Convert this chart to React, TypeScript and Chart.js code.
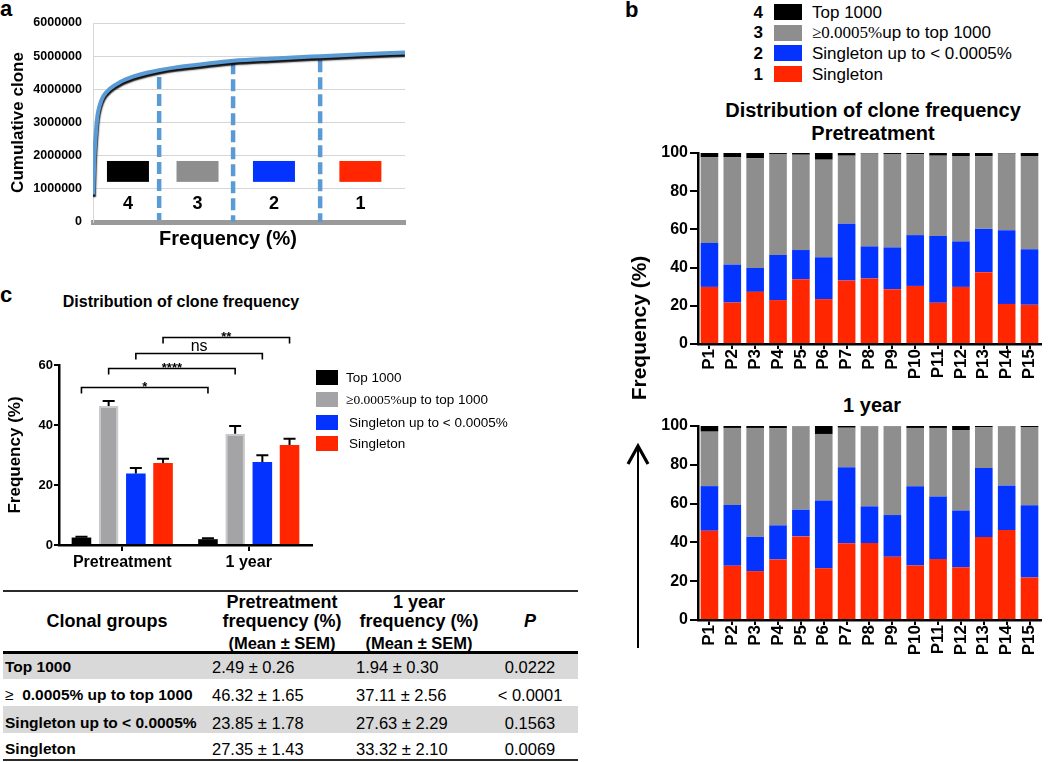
import React, { useEffect, useRef } from "react";
import { Chart, registerables } from "chart.js";

Chart.register(...registerables);

const FONT = "'Liberation Sans', Arial, Helvetica, sans-serif";
const SERIF = "'Liberation Serif', 'Times New Roman', serif";
Chart.defaults.font.family = FONT;
Chart.defaults.color = "#000";

// ---------- Panel a: cumulative clone curve ----------
const curveX = [0.1, 0.4, 0.9, 1.4, 2.2, 3.3, 5.4, 8.7, 12.8, 17.2, 21.2, 27, 34.3, 44.9, 58, 72.8, 86, 100];
const curveY = [830000, 1820000, 2630000, 3170000, 3530000, 3790000, 4020000, 4220000, 4380000, 4500000, 4580000, 4670000, 4750000, 4860000, 4930000, 5000000, 5060000, 5110000];
const cutX = [21.2, 44.9, 72.8];
const cutTop = [4370000, 4820000, 4880000];
const cutBottom = [60000, 0, 0];
const groupNumbers = ["4", "3", "2", "1"];
const groupCenters = [11.2, 33.5, 58.0, 85.7];
const yTicksA = [0, 1000000, 2000000, 3000000, 4000000, 5000000, 6000000];

// ---------- Panel b: per patient stacked distribution ----------
const patients = ["P1", "P2", "P3", "P4", "P5", "P6", "P7", "P8", "P9", "P10", "P11", "P12", "P13", "P14", "P15"];
const preSingleton = [29.9, 21.7, 27.3, 23.0, 33.9, 23.5, 33.2, 34.3, 28.7, 30.4, 21.6, 29.9, 37.6, 21.0, 20.5];
const preSingletonUp = [23.0, 19.9, 12.5, 23.6, 15.3, 21.9, 29.8, 16.8, 21.9, 26.6, 34.9, 23.8, 22.7, 38.5, 29.1];
const preMid = [44.8, 56.1, 57.4, 52.9, 49.9, 51.1, 35.6, 48.6, 48.9, 42.3, 42.1, 44.7, 38.0, 40.2, 48.8];
const preTop = [2.3, 2.3, 2.8, 0.5, 0.9, 3.5, 1.4, 0.3, 0.5, 0.7, 1.4, 1.6, 1.7, 0.3, 1.6];
const yrSingleton = [46.0, 27.9, 25.2, 31.2, 43.1, 26.7, 39.5, 39.7, 32.6, 28.1, 31.4, 27.2, 42.8, 46.4, 21.9];
const yrSingletonUp = [23.0, 31.4, 17.7, 17.6, 13.8, 34.9, 39.3, 18.9, 21.5, 40.9, 32.2, 29.2, 35.5, 22.9, 37.2];
const yrMid = [28.1, 39.7, 56.1, 50.0, 42.9, 34.3, 20.3, 41.2, 45.7, 30.0, 35.4, 41.5, 21.0, 30.5, 40.4];
const yrTop = [2.9, 1.0, 1.0, 1.2, 0.2, 4.1, 0.9, 0.2, 0.2, 1.0, 1.0, 2.1, 0.7, 0.2, 0.5];

// ---------- Panel c + table ----------
const timepoints = ["Pretreatment", "1 year"];
const groupNames = ["Top 1000", "≥0.0005%up to top 1000", "Singleton up to < 0.0005%", "Singleton"];
const tableGroupNames = ["Top 1000", "≥  0.0005% up to top 1000", "Singleton up to < 0.0005%", "Singleton"];
const preMean = [2.49, 46.32, 23.85, 27.35];
const preSem = [0.26, 1.65, 1.78, 1.43];
const yrMean = [1.94, 37.11, 27.63, 33.32];
const yrSem = [0.30, 2.56, 2.29, 2.10];
const pValues = ["0.0222", "< 0.0001", "0.1563", "0.0069"];
const bracketLevels = [52.8, 58.9, 63.9, 69.4];
const bracketLabels = ["*", "****", "ns", "**"];

const BLACK = "#000000";
const GRAY = "#8e8e8e";
const GRAY_C = "#a4a4a7";
const BLUE = "#0433ff";
const RED = "#ff2600";
const CURVE = "#5b9bd5";
const groupColors = [BLACK, GRAY, BLUE, RED];

// ---------- helpers ----------
function ChartBox(props: { left: number; top: number; width: number; height: number; make: () => any }) {
  const ref = useRef<HTMLCanvasElement>(null);
  useEffect(() => {
    const chart = new Chart(ref.current as HTMLCanvasElement, props.make());
    return () => chart.destroy();
  }, []);
  return (
    <canvas
      ref={ref}
      width={props.width}
      height={props.height}
      style={{ position: "absolute", left: props.left, top: props.top, width: props.width, height: props.height }}
    />
  );
}

function Txt(props: {
  x: number; y: number; size: number; bold?: boolean; italic?: boolean;
  align?: "left" | "center" | "right"; family?: string; children: any;
}) {
  const { x, y, size, bold, italic, align = "left", family = FONT } = props;
  const style: React.CSSProperties = {
    position: "absolute",
    top: y - 0.8465 * size,
    fontSize: size,
    lineHeight: `${size}px`,
    fontWeight: bold ? 700 : 400,
    fontStyle: italic ? "italic" : "normal",
    fontFamily: family,
    whiteSpace: "pre",
    color: "#000",
  };
  if (align === "left") style.left = x;
  else if (align === "center") { style.left = x; style.transform = "translateX(-50%)"; }
  else style.right = 1050 - x;
  return <div style={style}>{props.children}</div>;
}

function LegendLabel({ text }: { text: string }) {
  if (text.startsWith("≥0.0005%")) {
    return (<><span style={{ fontFamily: SERIF }}>≥0.0005%</span>{text.slice(8)}</>);
  }
  return <>{text}</>;
}

// ---------- Panel a chart ----------
const shadowPlugin = {
  id: "curveShadow",
  beforeDatasetDraw(chart: any, args: any) {
    if (args.index === 0) {
      const c = chart.ctx;
      c.save();
      c.shadowColor = "rgba(0,0,0,0.95)";
      c.shadowOffsetX = 0.5;
      c.shadowOffsetY = 2.5;
      c.shadowBlur = 1.5;
    }
  },
  afterDatasetDraw(chart: any, args: any) {
    if (args.index === 0) chart.ctx.restore();
  },
};

const groupBoxPlugin = {
  id: "groupBoxes",
  beforeDatasetsDraw(chart: any) {
    const { ctx, scales } = chart;
    const x = scales.x, y = scales.y;
    ctx.save();
    groupCenters.forEach((c, i) => {
      const px = x.getPixelForValue(c);
      const top = y.getPixelForValue(1840000);
      const bottom = y.getPixelForValue(1210000);
      ctx.fillStyle = groupColors[i];
      ctx.fillRect(px - 21, top, 42, bottom - top);
      ctx.fillStyle = "#000";
      ctx.font = `bold 18px ${FONT}`;
      ctx.textAlign = "center";
      ctx.textBaseline = "middle";
      ctx.fillText(groupNumbers[i], px, y.getPixelForValue(540000));
    });
    ctx.restore();
  },
};

function makePanelA() {
  return {
    type: "line",
    data: {
      datasets: [
        {
          data: curveX.map((x, i) => ({ x, y: curveY[i] })),
          borderColor: CURVE,
          borderWidth: 4,
          pointRadius: 0,
          cubicInterpolationMode: "monotone",
          fill: false,
        },
        ...cutX.map((x, i) => ({
          data: [{ x, y: cutTop[i] }, { x, y: cutBottom[i] }],
          borderColor: CURVE,
          borderWidth: 4.5,
          borderDash: [12, 5],
          pointRadius: 0,
          fill: false,
        })),
      ],
    },
    options: {
      responsive: false,
      animation: false,
      layout: { padding: { top: 23, right: 15, left: 0, bottom: 0 } },
      plugins: { legend: { display: false }, tooltip: { enabled: false } },
      scales: {
        x: {
          type: "linear", min: 0, max: 100,
          ticks: { display: false },
          grid: { display: false },
          border: { color: "#9a9a9a", width: 5 },
          afterFit: (s: any) => { s.height = 28; },
        },
        y: {
          min: 0, max: 6000000,
          afterBuildTicks: (s: any) => { s.ticks = yTicksA.map((v) => ({ value: v })); },
          ticks: { callback: (v: any) => String(v), font: { size: 12.5, weight: "bold" }, color: "#000", padding: 11 },
          grid: { color: "#d6d6d6", drawTicks: false },
          border: { color: "#d6d6d6" },
          title: { display: true, text: "Cumulative clone", font: { size: 17, weight: "bold" }, color: "#000", padding: { top: 8, bottom: 0 } },
          afterFit: (s: any) => { s.width = 93; },
        },
      },
    },
    plugins: [shadowPlugin, groupBoxPlugin],
  };
}

// ---------- Panel b charts ----------
function makeStack(red: number[], blue: number[], gray: number[], black: number[], padTop: number, xh: number) {
  return () => ({
    type: "bar",
    data: {
      labels: patients,
      datasets: [
        { label: groupNames[3], data: red, backgroundColor: RED },
        { label: groupNames[2], data: blue, backgroundColor: BLUE },
        { label: groupNames[1], data: gray, backgroundColor: GRAY },
        { label: groupNames[0], data: black, backgroundColor: BLACK },
      ],
    },
    options: {
      responsive: false,
      animation: false,
      datasets: { bar: { barPercentage: 0.77, categoryPercentage: 1 } },
      layout: { padding: { top: padTop, right: 2, left: 0, bottom: 0 } },
      plugins: { legend: { display: false }, tooltip: { enabled: false } },
      scales: {
        x: {
          stacked: true,
          grid: { display: true, drawOnChartArea: false, offset: false, tickLength: 5, color: "#000", lineWidth: 2 },
          border: { color: "#000", width: 2.5 },
          ticks: { maxRotation: 90, minRotation: 90, autoSkip: false, font: { size: 17, weight: "bold" }, color: "#000", padding: 0 },
          afterFit: (s: any) => { s.height = xh; },
        },
        y: {
          stacked: true, min: 0, max: 100,
          ticks: { stepSize: 20, font: { size: 16, weight: "bold" }, color: "#000", padding: 2 },
          grid: { display: true, drawOnChartArea: false, tickLength: 8, color: "#000", lineWidth: 2 },
          border: { color: "#000", width: 2.5 },
          afterFit: (s: any) => { s.width = 58; },
        },
      },
    },
  });
}

// ---------- Panel c chart ----------
const errorBarPlugin = {
  id: "errorBars",
  afterDatasetsDraw(chart: any) {
    const { ctx, scales } = chart;
    const y = scales.y;
    const sems = [[preSem[0], yrSem[0]], [preSem[1], yrSem[1]], [preSem[2], yrSem[2]], [preSem[3], yrSem[3]]];
    ctx.save();
    ctx.strokeStyle = "#000";
    ctx.lineWidth = 2;
    chart.data.datasets.forEach((ds: any, di: number) => {
      const meta = chart.getDatasetMeta(di);
      meta.data.forEach((bar: any, i: number) => {
        const v = ds.data[i];
        const yb = y.getPixelForValue(v);
        const yt = y.getPixelForValue(v + sems[di][i]);
        ctx.beginPath();
        ctx.moveTo(bar.x, yb);
        ctx.lineTo(bar.x, yt);
        ctx.moveTo(bar.x - 6, yt);
        ctx.lineTo(bar.x + 6, yt);
        ctx.stroke();
      });
    });
    ctx.restore();
  },
};

const bracketPlugin = {
  id: "brackets",
  afterDraw(chart: any) {
    const { ctx, scales } = chart;
    const y = scales.y;
    ctx.save();
    ctx.strokeStyle = "#000";
    ctx.fillStyle = "#000";
    ctx.lineWidth = 1.6;
    bracketLevels.forEach((lvl, k) => {
      const meta = chart.getDatasetMeta(k);
      const x1 = meta.data[0].x, x2 = meta.data[1].x;
      const py = Math.round(y.getPixelForValue(lvl)) + 0.5;
      ctx.beginPath();
      ctx.moveTo(x1, py + 6);
      ctx.lineTo(x1, py);
      ctx.lineTo(x2, py);
      ctx.lineTo(x2, py + 6);
      ctx.stroke();
      const label = bracketLabels[k];
      ctx.textAlign = "center";
      ctx.textBaseline = "alphabetic";
      if (label === "ns") {
        ctx.font = `16px ${FONT}`;
        ctx.fillText(label, (x1 + x2) / 2, py - 3);
      } else {
        ctx.font = `bold 13px ${FONT}`;
        ctx.fillText(label, (x1 + x2) / 2, py + 3.5);
      }
    });
    ctx.restore();
  },
};

function makePanelC() {
  return {
    type: "bar",
    data: {
      labels: timepoints,
      datasets: [
        { label: groupNames[0], data: [preMean[0], yrMean[0]], backgroundColor: BLACK },
        { label: groupNames[1], data: [preMean[1], yrMean[1]], backgroundColor: GRAY_C, borderColor: "#c9c9cb", borderWidth: 2 },
        { label: groupNames[2], data: [preMean[2], yrMean[2]], backgroundColor: BLUE },
        { label: groupNames[3], data: [preMean[3], yrMean[3]], backgroundColor: RED },
      ],
    },
    options: {
      responsive: false,
      animation: false,
      datasets: { bar: { barPercentage: 0.72, categoryPercentage: 0.86 } },
      layout: { padding: { top: 55, right: 18, left: 0, bottom: 0 } },
      plugins: { legend: { display: false }, tooltip: { enabled: false } },
      scales: {
        x: {
          grid: { display: true, drawOnChartArea: false, offset: false, tickLength: 6, color: "#000", lineWidth: 2 },
          border: { color: "#000", width: 2.5 },
          ticks: { font: { size: 16, weight: "bold" }, color: "#000", padding: 2 },
          afterFit: (s: any) => { s.height = 35; },
        },
        y: {
          min: 0, max: 60,
          ticks: { stepSize: 20, font: { size: 13, weight: "bold" }, color: "#000", padding: 1 },
          grid: { display: true, drawOnChartArea: false, tickLength: 5, color: "#000", lineWidth: 2 },
          border: { color: "#000", width: 2.5 },
          title: { display: true, text: "Frequency (%)", font: { size: 17, weight: "bold" }, color: "#000", padding: { top: 5.5, bottom: 0 } },
          afterFit: (s: any) => { s.width = 59; },
        },
      },
    },
    plugins: [errorBarPlugin, bracketPlugin],
  };
}

// ---------- Table ----------
function Table() {
  const rowBase = [672.5, 700.5, 728.5, 754.5];
  const fmt = (m: number, s: number) => `${m.toFixed(2)} ± ${s.toFixed(2)}`;
  return (
    <>
      <div style={{ position: "absolute", left: 3, top: 653, width: 575, height: 26, background: "#d9d9d9" }} />
      <div style={{ position: "absolute", left: 3, top: 706, width: 575, height: 27, background: "#d9d9d9" }} />
      <div style={{ position: "absolute", left: 3, top: 590, width: 575, height: 2, background: "#2a2a2a" }} />
      <div style={{ position: "absolute", left: 3, top: 651, width: 575, height: 2.5, background: "#000" }} />
      <div style={{ position: "absolute", left: 3, top: 759, width: 575, height: 2, background: "#2a2a2a" }} />
      <Txt x={107} y={627.5} size={18} bold align="center">Clonal groups</Txt>
      <Txt x={282} y={608} size={18} bold align="center">Pretreatment</Txt>
      <Txt x={282} y={627} size={18} bold align="center">frequency (%)</Txt>
      <Txt x={282} y={648.5} size={16.5} bold align="center">(Mean ± SEM)</Txt>
      <Txt x={419} y={608} size={18} bold align="center">1 year</Txt>
      <Txt x={419} y={627} size={18} bold align="center">frequency (%)</Txt>
      <Txt x={419} y={648.5} size={16.5} bold align="center">(Mean ± SEM)</Txt>
      <Txt x={530} y={627} size={18} bold italic align="center">P</Txt>
      {tableGroupNames.map((name, i) => (
        <React.Fragment key={i}>
          {name.startsWith("≥") ? (
            <Txt x={5} y={rowBase[i]} size={15.5}>{"≥  "}<b>{name.slice(3)}</b></Txt>
          ) : (
            <Txt x={5} y={rowBase[i]} size={15.5} bold>{name}</Txt>
          )}
          <Txt x={212} y={rowBase[i]} size={16.5}>{fmt(preMean[i], preSem[i])}</Txt>
          <Txt x={356} y={rowBase[i]} size={16.5}>{fmt(yrMean[i], yrSem[i])}</Txt>
          <Txt x={530} y={rowBase[i]} size={16.5} align="center">{pValues[i]}</Txt>
        </React.Fragment>
      ))}
    </>
  );
}

export default function App() {
  const legendBRows = [12, 32.5, 53, 74];
  const legendCRows = [377.5, 399.5, 422.5, 443.5];
  return (
    <div style={{ position: "absolute", left: 0, top: 0, width: 1050, height: 762, background: "#fff", overflow: "hidden", fontFamily: FONT }}>
      {/* Panel a */}
      <Txt x={0} y={17} size={22} bold>a</Txt>
      <ChartBox left={0} top={0} width={420} height={250} make={makePanelA} />
      <Txt x={228} y={245} size={20} bold align="center">Frequency (%)</Txt>

      {/* Panel b */}
      <Txt x={625} y={18} size={22} bold>b</Txt>
      {groupNames.map((name, i) => (
        <React.Fragment key={i}>
          <Txt x={763} y={legendBRows[i] + 6} size={17} bold align="right">{groupNumbers[i]}</Txt>
          <div style={{ position: "absolute", left: 774, top: legendBRows[i] - 8, width: 28, height: 16, background: groupColors[i] }} />
          <Txt x={812} y={legendBRows[i] + 6} size={17}><LegendLabel text={name} /></Txt>
        </React.Fragment>
      ))}
      <Txt x={873} y={117} size={20} bold align="center">Distribution of clone frequency</Txt>
      <Txt x={873} y={140} size={20} bold align="center">Pretreatment</Txt>
      <ChartBox left={640} top={140} width={410} height={250} make={makeStack(preSingleton, preSingletonUp, preMid, preTop, 13, 46)} />
      <Txt x={872} y={412} size={20} bold align="center">1 year</Txt>
      <ChartBox left={640} top={412} width={410} height={258} make={makeStack(yrSingleton, yrSingletonUp, yrMid, yrTop, 14, 50)} />
      <div style={{ position: "absolute", left: 638, top: 328, transform: "translate(-50%,-50%) rotate(-90deg)", fontSize: 21, fontWeight: 700, lineHeight: "21px", whiteSpace: "nowrap", fontFamily: FONT }}>Frequency (%)</div>
      <svg style={{ position: "absolute", left: 620, top: 440 }} width={36} height={212}>
        <line x1={18} y1={6} x2={18} y2={208} stroke="#000" strokeWidth={2} />
        <polyline points="8,24 18,6 28,24" fill="none" stroke="#000" strokeWidth={3.2} strokeLinejoin="miter" />
      </svg>

      {/* Panel c */}
      <Txt x={0} y={303} size={22} bold>c</Txt>
      <Txt x={181} y={308} size={16} bold align="center">Distribution of clone frequency</Txt>
      <ChartBox left={0} top={310} width={330} height={270} make={makePanelC} />
      {groupNames.map((name, i) => (
        <React.Fragment key={i}>
          <div style={{ position: "absolute", left: 316, top: legendCRows[i] - 7.5, width: 22, height: 15, background: i === 1 ? GRAY_C : groupColors[i] }} />
          <Txt x={i >= 2 ? 349 : 346} y={legendCRows[i] + 5} size={13.5}><LegendLabel text={name} /></Txt>
        </React.Fragment>
      ))}

      <Table />
    </div>
  );
}
